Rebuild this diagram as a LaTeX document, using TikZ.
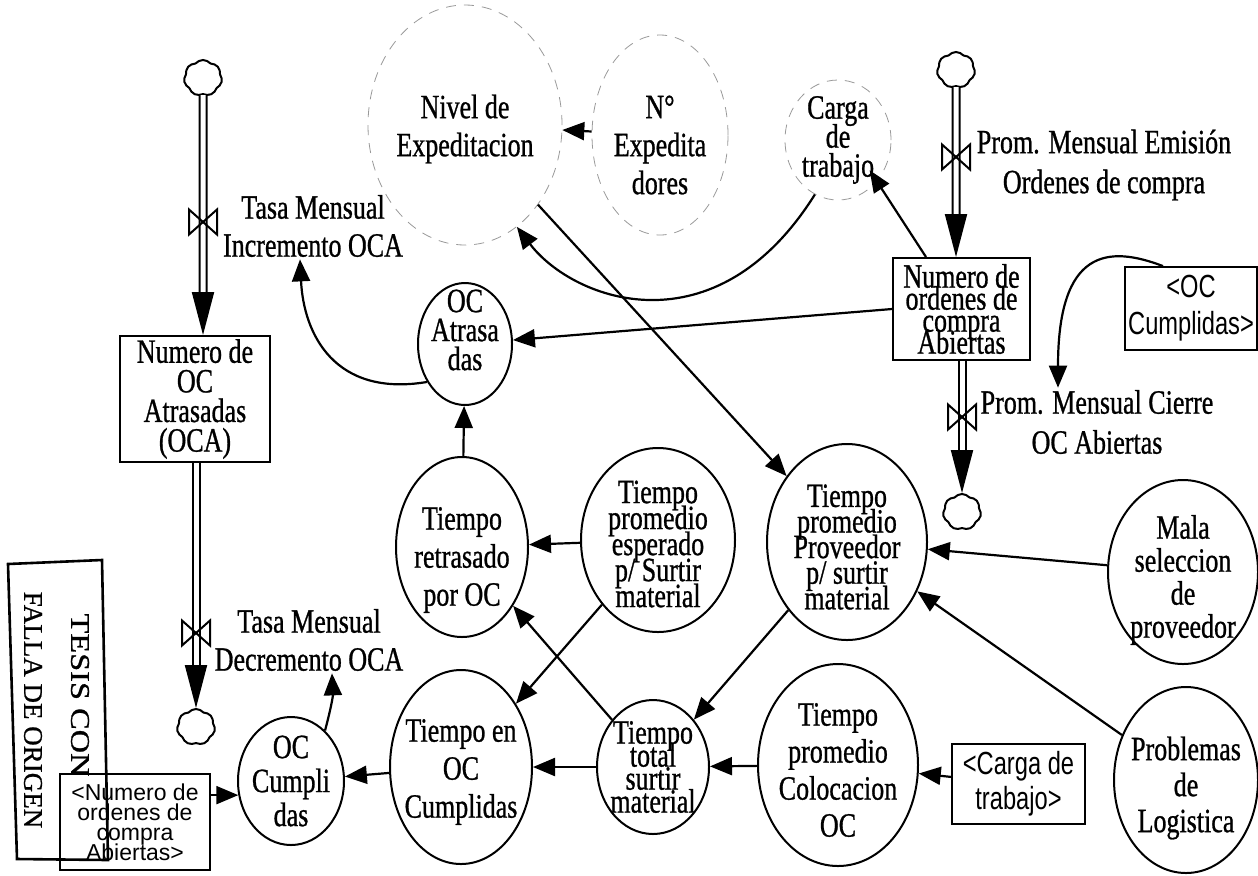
\documentclass[tikz,border=0pt]{standalone}
\usepackage{fontspec}
\usepackage{graphicx}
\setmainfont{Liberation Serif}[FakeStretch=0.765, FakeBold=0.8]
\newfontfamily\shadowfont{Liberation Sans}[FakeStretch=0.74]
\newfontfamily\shadowplain{Liberation Sans}
\newfontfamily\stampfont{Liberation Serif}[FakeBold=0.8]
\usetikzlibrary{arrows.meta,shapes.geometric,shapes.symbols}
\lineskiplimit=-100pt

\tikzset{
  vtext/.style={align=center, inner sep=0pt, font=\fontsize{17pt}{#1}\selectfont},
  var/.style={draw, ellipse, line width=1pt, inner sep=0pt},
  ghost/.style={draw=black!40, ellipse, line width=0.4pt, dash pattern=on 5pt off 4pt, inner sep=0pt},
  stockbox/.style={draw, rectangle, line width=1pt, inner sep=0pt, align=center, font=\fontsize{17pt}{#1}\selectfont},
  shadowvar/.style={draw, rectangle, line width=0.9pt, inner sep=0pt, align=center,
    font=\shadowfont\fontsize{16pt}{#1}\selectfont},
  ratelbl/.style={align=center, inner sep=1pt, font=\fontsize{17pt}{#1}\selectfont},
  infl/.style={-{Triangle[length=11pt,width=9pt]}, line width=1.1pt},
  pipe/.style={double, double distance=2.5pt, line width=1pt},
  flowtip/.style={-{Triangle[length=21.5pt,width=11pt]}, line width=1pt},
  cloudsrc/.style={cloud, cloud puffs=7, cloud puff arc=100, aspect=1, draw, line width=1pt, fill=white,
    minimum width=19pt, minimum height=18pt, inner sep=0pt},
  valvepic/.pic={\draw[line width=1pt] (-14,-12.5) -- (14,12.5) -- (14,-12.5) -- (-14,12.5) -- cycle;},
}

\begin{document}
\begin{tikzpicture}[x=0.5pt, y=-0.5pt]
\useasboundingbox (0,0) rectangle (1258,875);

% ---- auxiliary variables drawn with dashed outlines
\node[ghost, minimum width=97pt, minimum height=120pt] (nivel) at (465,125) {};
\node[vtext=19pt, yshift=-2pt] (nivelT) at (nivel) {Nivel de\\Expeditacion};
\node[ghost, minimum width=68pt, minimum height=100pt] (nexp) at (660,135) {};
\node[vtext=19pt, yshift=-5pt] (nexpT) at (nexp) {N°\\Expedita\\dores};
\node[ghost, minimum width=53pt, minimum height=60pt] (carga) at (838,140) {};
\node[vtext=14.5pt] (cargaT) at (carga) {Carga\\de\\trabajo};

% ---- variables
\node[var, minimum width=47pt, minimum height=61pt] (ocAtr) at (465,344) {};
\node[vtext=14.5pt, yshift=7pt] (ocAtrT) at (ocAtr) {OC\\Atrasa\\das};
\node[var, minimum width=66pt, minimum height=90pt] (tRetr) at (462,547) {};
\node[vtext=19pt, yshift=-6.5pt] (tRetrT) at (tRetr) {Tiempo\\retrasado\\por OC};
\node[var, minimum width=77pt, minimum height=92pt] (tEsp) at (658,540) {};
\node[vtext=13pt, yshift=-2pt] (tEspT) at (tEsp) {Tiempo\\promedio\\esperado\\p/ Surtir\\material};
\node[var, minimum width=80pt, minimum height=98pt] (tProv) at (847,542) {};
\node[vtext=12.8pt, yshift=-2.5pt] (tProvT) at (tProv) {Tiempo\\promedio\\Proveedor\\p/ surtir\\material};
\node[var, minimum width=75pt, minimum height=92pt] (mala) at (1183,572) {};
\node[vtext=16.5pt, yshift=-4pt] (malaT) at (mala) {Mala\\seleccion\\de\\proveedor};
\node[var, minimum width=53pt, minimum height=64pt] (ocCump) at (291,781) {};
\node[vtext=17pt] (ocCumpT) at (ocCump) {OC\\Cumpli\\das};
\node[var, minimum width=71pt, minimum height=97pt] (tEnOC) at (461,767) {};
\node[vtext=19pt, yshift=-2.5pt] (tEnOCT) at (tEnOC) {Tiempo en\\OC\\Cumplidas};
\node[var, minimum width=56pt, minimum height=67pt] (tTot) at (653,767) {};
\node[vtext=11.5pt] (tTotT) at (tTot) {Tiempo\\total\\surtir\\material};
\node[var, minimum width=80pt, minimum height=101pt] (tCol) at (838,765) {};
\node[vtext=18.5pt, yshift=-2.5pt] (tColT) at (tCol) {Tiempo\\promedio\\Colocacion\\OC};
\node[var, minimum width=72pt, minimum height=93pt] (prob) at (1186,780) {};
\node[vtext=18pt, yshift=-4pt] (probT) at (prob) {Problemas\\de\\Logistica};

% ---- shadow variables
\node[shadowvar=18.5pt, minimum width=66pt, minimum height=41.5pt] (shOC) at (1191,308.5) {<OC\\Cumplidas>};
\node[shadowvar=17.5pt, minimum width=66.5pt, minimum height=40pt] (shCarga) at (1018.5,784) {<Carga de\\trabajo>};
\node[shadowvar=10pt, font=\shadowplain\fontsize{11.5pt}{10pt}\selectfont,
  minimum width=75pt, minimum height=48pt] (shNum) at (135,822) {<Numero de\\ordenes de\\compra\\Abiertas>};

% ---- levels
\node[stockbox=14.8pt, minimum width=75pt, minimum height=63pt] (stockL) at (195,399) {Numero de\\OC\\Atrasadas\\(OCA)};
\node[stockbox=11pt, minimum width=68.5pt, minimum height=51pt] (stockR) at (961.5,309) {Numero de\\ordenes de\\compra\\Abiertas};

% ---- sources and sinks
\node[cloudsrc] (cTL) at (203,78) {};
\node[cloudsrc] (cBL) at (196,727) {};
\node[cloudsrc] (cTR) at (956,70) {};
\node[cloudsrc] (cBR) at (962,512) {};

% ---- rate labels
\node[ratelbl=19pt] (lblInc) at (313,226) {Tasa Mensual\\Incremento OCA};
\node[ratelbl=19pt] (lblDec) at (309,640) {Tasa Mensual\\Decremento OCA};
\node[ratelbl=20pt] (lblEm) at (1104,165) {Prom. Mensual Emisión\\Ordenes de compra};
\node[ratelbl=20pt] (lblCi) at (1097,422) {Prom. Mensual Cierre\\OC Abiertas};

% ---- flows (pipes, arrow heads, valves)
\coordinate (inTL) at (cTL |- stockL.north);
\draw[pipe, shorten >=21pt] (cTL) -- (inTL);
\draw[flowtip] ([yshift=21.5pt]inTL) -- (inTL);
\pic at (203,222) {valvepic};

\coordinate (outBL) at (stockL.south -| cBL);
\draw[pipe, shorten >=21pt] (outBL) -- (cBL);
\draw[flowtip] ([yshift=21.5pt]cBL.north) -- (cBL.north);
\pic at (196,633) {valvepic};

\coordinate (inTR) at (cTR |- stockR.north);
\draw[pipe, shorten >=21pt] (cTR) -- (inTR);
\draw[flowtip] ([yshift=21.5pt]inTR) -- (inTR);
\pic at (956,157) {valvepic};

\coordinate (outBR) at (stockR.south -| cBR);
\draw[pipe, shorten >=21pt] (outBR) -- (cBR);
\draw[flowtip] ([yshift=21.5pt]cBR.north) -- (cBR.north);
\pic at (962,417) {valvepic};

% ---- causal links
\draw[infl] (nexp) -- (nivel);
\draw[infl] (carga.247) .. controls (715.5,353) and (573.5,301) .. (nivel.-63);
\draw[infl, shorten >=18pt] ([xshift=17pt]stockR.north west) -- ([xshift=6pt]carga.center);
\draw[infl] (stockR.west) -- (ocAtr);
\draw[infl] (ocAtr.225) .. controls (334.7,397.4) and (303.6,334.2) .. ([xshift=-6.5pt]lblInc.south);
\draw[infl] (nivel) -- (tProv);
\draw[infl] (tRetr) -- (ocAtr);
\draw[infl] (tEsp) -- (tRetr);
\draw[infl] (tEsp) -- (tEnOC);
\draw[infl] (tTot) -- (tRetr);
\draw[infl] (tTot) -- (tEnOC);
\draw[infl] (tEnOC) -- (ocCump);
\draw[infl] (shNum.east |- ocCump.195) -- (ocCump.195);
\draw[infl] (ocCump.56) .. controls (330,712) and (333,697) .. ([xshift=11.5pt]lblDec.south);
\draw[infl] (tProv) -- (tTot);
\draw[infl] (tCol) -- (tTot);
\draw[infl] (shCarga) -- (tCol);
\draw[infl] (mala) -- (tProv);
\draw[infl] (prob) -- (tProv);
\draw[infl] ([xshift=-14pt]shOC.north) .. controls (1108,245) and (1058,249) .. ([xshift=-19.5pt]lblCi.north);

% ---- stamp
\draw[line width=1.3pt] (8,564) -- (102,560) -- (108,860) -- (17,859) -- cycle;
\node[rotate=-90, font=\stampfont\fontsize{13.5pt}{15pt}\selectfont] (stampA) at (80,695) {\scalebox{1.2}[1]{TESIS CON}};
\node[rotate=-90, font=\stampfont\fontsize{13.5pt}{15pt}\selectfont] (stampB) at (33,710) {FALLA DE ORIGEN};
\end{tikzpicture}
\end{document}
